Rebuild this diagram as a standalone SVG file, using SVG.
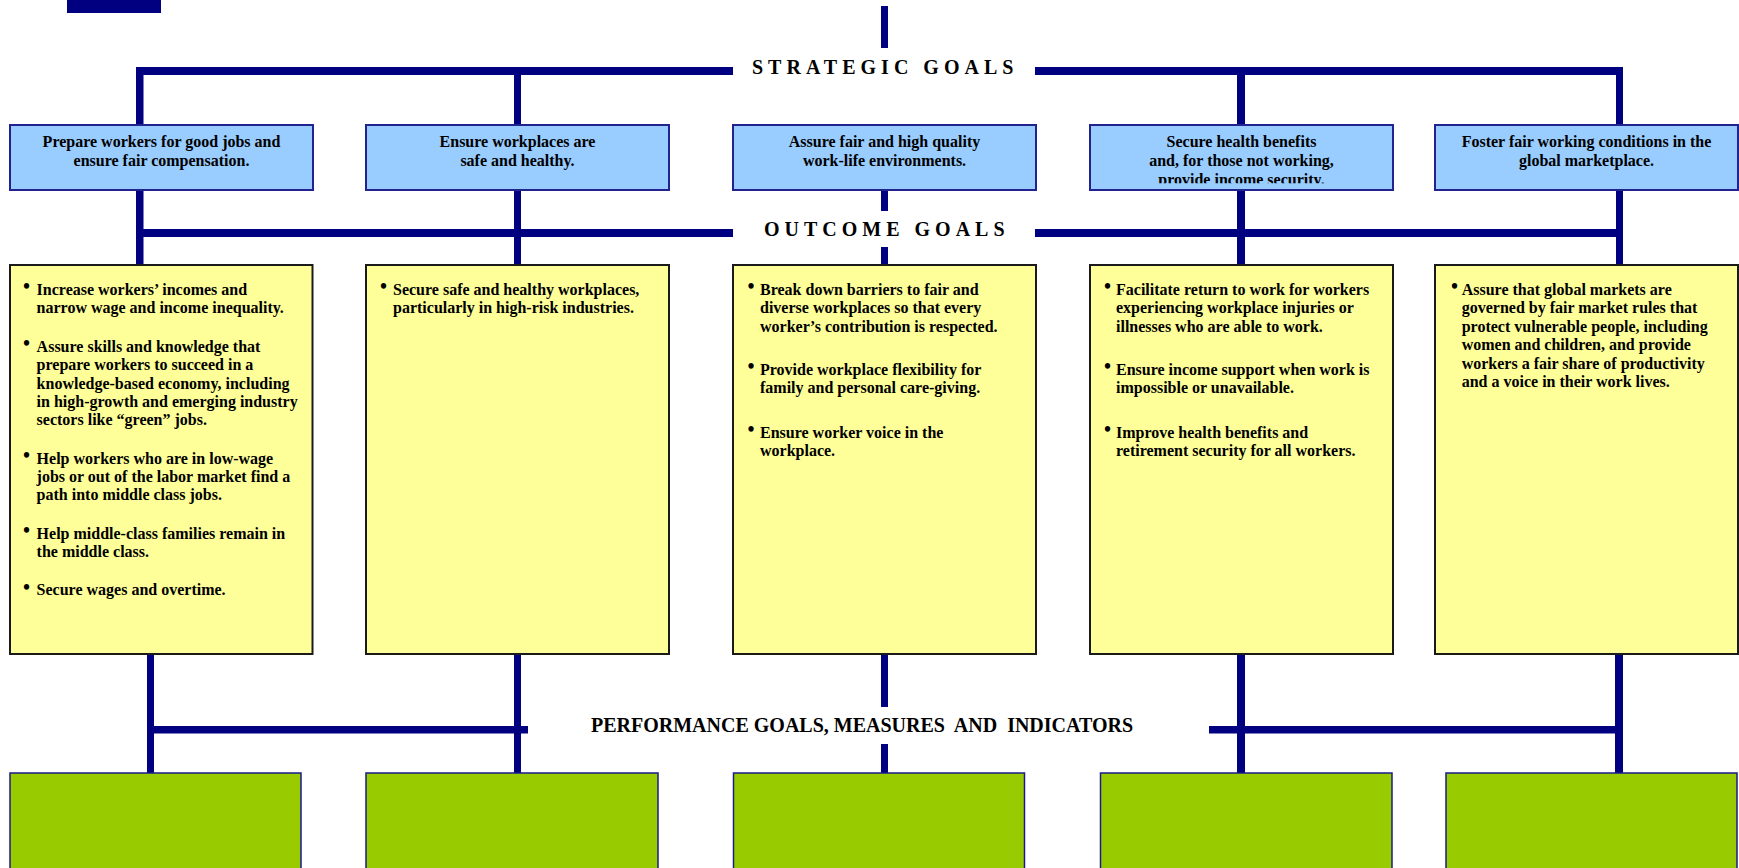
<svg xmlns="http://www.w3.org/2000/svg" width="1739" height="868" viewBox="0 0 1739 868">
<style>
.ln{fill:#000080}
.sg{fill:#99CCFF;stroke:#23238f;stroke-width:2}
.og{fill:#FFFF99;stroke:#1a1a1a;stroke-width:2}
.pg{fill:#99CC00;stroke:#1a1a8a;stroke-width:1.5}
text{font-family:"Liberation Serif","Times New Roman",serif;font-weight:bold;fill:#000}
.t{font-size:16px}
.c{text-anchor:middle}
.b{font-size:20px}
.h{font-size:20px;letter-spacing:5px}
.p{font-size:20px}
</style>
<defs>
<clipPath id="clip4"><rect x="1091" y="126" width="301" height="57.3"/></clipPath>
</defs>
<g id="connectors">
<rect class="ln" x="67" y="0" width="94" height="13"/>
<rect class="ln" x="881" y="6" width="7" height="42"/>
<rect class="ln" x="136" y="67" width="597" height="8"/>
<rect class="ln" x="1035" y="67" width="585" height="8"/>
<rect class="ln" x="136" y="67" width="7.5" height="58"/>
<rect class="ln" x="514" y="67" width="7" height="58"/>
<rect class="ln" x="1237" y="67" width="8" height="58"/>
<rect class="ln" x="1616" y="67" width="7" height="58"/>
<rect class="ln" x="136" y="190" width="7.5" height="75"/>
<rect class="ln" x="514" y="190" width="7" height="75"/>
<rect class="ln" x="881" y="190" width="7" height="21"/>
<rect class="ln" x="881" y="247" width="7" height="18"/>
<rect class="ln" x="1237" y="190" width="8" height="75"/>
<rect class="ln" x="1616" y="190" width="7" height="75"/>
<rect class="ln" x="136" y="229" width="597" height="8"/>
<rect class="ln" x="1035" y="229" width="585" height="8"/>
<rect class="ln" x="147" y="654" width="7" height="119"/>
<rect class="ln" x="514" y="654" width="7" height="119"/>
<rect class="ln" x="881" y="654" width="7" height="53"/>
<rect class="ln" x="881" y="744" width="7" height="29"/>
<rect class="ln" x="1237" y="654" width="8" height="119"/>
<rect class="ln" x="1615" y="654" width="8" height="119"/>
<rect class="ln" x="147" y="726" width="381" height="7.5"/>
<rect class="ln" x="1209" y="726" width="411" height="7.5"/>
</g>
<g id="labels">
<text class="h" x="752" y="74">STRATEGIC GOALS</text>
<text class="h" x="764" y="236">OUTCOME GOALS</text>
<text class="p" x="591" y="732">PERFORMANCE GOALS, MEASURES&#160; AND&#160; INDICATORS</text>
</g>
<g id="strategic1">
<rect class="sg" x="10" y="125" width="303" height="65"/>
<text class="t c" x="161.5" y="147">Prepare workers for good jobs and</text>
<text class="t c" x="161.5" y="166">ensure fair compensation.</text>
</g>
<g id="strategic2">
<rect class="sg" x="366" y="125" width="303" height="65"/>
<text class="t c" x="517.5" y="147">Ensure workplaces are</text>
<text class="t c" x="517.5" y="166">safe and healthy.</text>
</g>
<g id="strategic3">
<rect class="sg" x="733" y="125" width="303" height="65"/>
<text class="t c" x="884.5" y="147">Assure fair and high quality</text>
<text class="t c" x="884.5" y="166">work-life environments.</text>
</g>
<g id="strategic4">
<rect class="sg" x="1090" y="125" width="303" height="65"/>
<g clip-path="url(#clip4)">
<text class="t c" x="1241.5" y="147">Secure health benefits</text>
<text class="t c" x="1241.5" y="166">and, for those not working,</text>
<text class="t c" x="1241.5" y="185">provide income security.</text>
</g>
</g>
<g id="strategic5">
<rect class="sg" x="1435" y="125" width="303" height="65"/>
<text class="t c" x="1586.5" y="147">Foster fair working conditions in the</text>
<text class="t c" x="1586.5" y="166">global marketplace.</text>
</g>
<g id="outcome1">
<rect class="og" x="10" y="265" width="302.5" height="389"/>
<text class="b" x="23" y="293.3">•</text>
<text class="t" x="36.6" y="295">Increase workers’ incomes and</text>
<text class="t" x="36.6" y="313.4">narrow wage and income inequality.</text>
<text class="b" x="23" y="350">•</text>
<text class="t" x="36.6" y="351.7">Assure skills and knowledge that</text>
<text class="t" x="36.6" y="370.1">prepare workers to succeed in a</text>
<text class="t" x="36.6" y="388.5">knowledge-based economy, including</text>
<text class="t" x="36.6" y="406.9">in high-growth and emerging industry</text>
<text class="t" x="36.6" y="425.3">sectors like “green” jobs.</text>
<text class="b" x="23" y="461.9">•</text>
<text class="t" x="36.6" y="463.6">Help workers who are in low-wage</text>
<text class="t" x="36.6" y="482">jobs or out of the labor market find a</text>
<text class="t" x="36.6" y="500.4">path into middle class jobs.</text>
<text class="b" x="23" y="537">•</text>
<text class="t" x="36.6" y="538.7">Help middle-class families remain in</text>
<text class="t" x="36.6" y="557.1">the middle class.</text>
<text class="b" x="23" y="593.7">•</text>
<text class="t" x="36.6" y="595.4">Secure wages and overtime.</text>
</g>
<g id="outcome2">
<rect class="og" x="366" y="265" width="303" height="389"/>
<text class="b" x="380" y="293.3">•</text>
<text class="t" x="393" y="295">Secure safe and healthy workplaces,</text>
<text class="t" x="393" y="313.4">particularly in high-risk industries.</text>
</g>
<g id="outcome3">
<rect class="og" x="733" y="265" width="303" height="389"/>
<text class="b" x="747.5" y="293.3">•</text>
<text class="t" x="760" y="295">Break down barriers to fair and</text>
<text class="t" x="760" y="313.4">diverse workplaces so that every</text>
<text class="t" x="760" y="331.8">worker’s contribution is respected.</text>
<text class="b" x="747.5" y="373.3">•</text>
<text class="t" x="760" y="375">Provide workplace flexibility for</text>
<text class="t" x="760" y="393.4">family and personal care-giving.</text>
<text class="b" x="747.5" y="436.3">•</text>
<text class="t" x="760" y="438">Ensure worker voice in the</text>
<text class="t" x="760" y="456.4">workplace.</text>
</g>
<g id="outcome4">
<rect class="og" x="1090" y="265" width="303" height="389"/>
<text class="b" x="1104" y="293.3">•</text>
<text class="t" x="1116" y="295">Facilitate return to work for workers</text>
<text class="t" x="1116" y="313.4">experiencing workplace injuries or</text>
<text class="t" x="1116" y="331.8">illnesses who are able to work.</text>
<text class="b" x="1104" y="373.3">•</text>
<text class="t" x="1116" y="375">Ensure income support when work is</text>
<text class="t" x="1116" y="393.4">impossible or unavailable.</text>
<text class="b" x="1104" y="436.3">•</text>
<text class="t" x="1116" y="438">Improve health benefits and</text>
<text class="t" x="1116" y="456.4">retirement security for all workers.</text>
</g>
<g id="outcome5">
<rect class="og" x="1435" y="265" width="303" height="389"/>
<text class="b" x="1451" y="293.3">•</text>
<text class="t" x="1461.7" y="295">Assure that global markets are</text>
<text class="t" x="1461.7" y="313.4">governed by fair market rules that</text>
<text class="t" x="1461.7" y="331.8">protect vulnerable people, including</text>
<text class="t" x="1461.7" y="350.2">women and children, and provide</text>
<text class="t" x="1461.7" y="368.6">workers a fair share of productivity</text>
<text class="t" x="1461.7" y="387">and a voice in their work lives.</text>
</g>
<g id="performance1"><rect class="pg" x="10" y="773" width="291" height="110"/></g>
<g id="performance2"><rect class="pg" x="366" y="773" width="292" height="110"/></g>
<g id="performance3"><rect class="pg" x="733.5" y="773" width="291" height="110"/></g>
<g id="performance4"><rect class="pg" x="1100.5" y="773" width="291.5" height="110"/></g>
<g id="performance5"><rect class="pg" x="1446" y="773" width="291" height="110"/></g>
</svg>
